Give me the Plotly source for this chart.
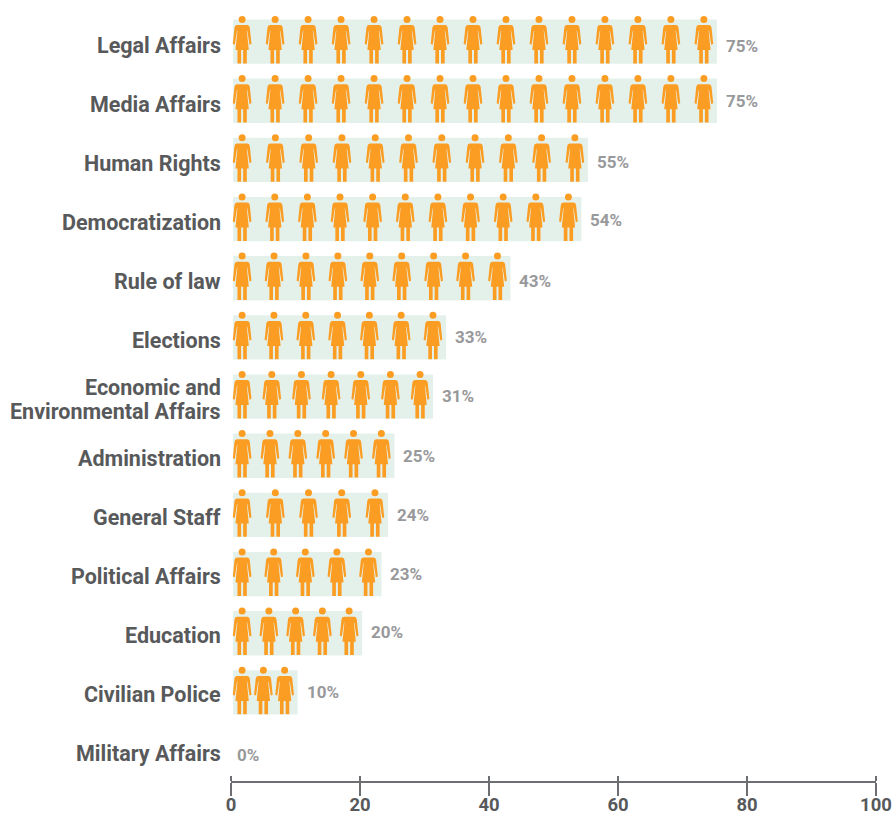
import numpy as np
import plotly.graph_objects as go

categories = ["Legal Affairs", "Media Affairs", "Human Rights", "Democratization", "Rule of law",
              "Elections", "Economic and Environmental Affairs", "Administration", "General Staff",
              "Political Affairs", "Education", "Civilian Police", "Military Affairs"]
label_lines = [["Legal Affairs"], ["Media Affairs"], ["Human Rights"], ["Democratization"], ["Rule of law"],
               ["Elections"], ["Economic and", "Environmental Affairs"], ["Administration"], ["General Staff"],
               ["Political Affairs"], ["Education"], ["Civilian Police"], ["Military Affairs"]]
shares = [75, 75, 55, 54, 43, 33, 31, 25, 24, 23, 20, 10, 0]
figures = [15, 15, 11, 11, 9, 7, 7, 6, 5, 5, 5, 3, 0]
tick_values = [0, 20, 40, 60, 80, 100]

PX_PER_UNIT = 6.45
BAR_START = 0.33
GREY = "#58595B"
AXIS = "#6D6E71"
FONT = dict(family="Roboto, sans-serif", weight=700)


def icon_path():
    """Woman pictogram, in pixels around the icon centre (y up)."""
    def p(x, y):
        return f"{(x - 52) / 3:.2f},{(97.5 - y) / 3:.2f}"
    body = (f"M{p(36, 48)} L{p(68, 48)} Q{p(74, 48)} {p(75, 56)} L{p(80, 105)} L{p(74, 107)} L{p(68, 68)} "
            f"L{p(66, 63)} L{p(72, 123)} L{p(66, 123)} L{p(66, 163)} L{p(55, 163)} L{p(55, 123)} L{p(49, 123)} "
            f"L{p(49, 163)} L{p(38, 163)} L{p(38, 123)} L{p(32, 123)} L{p(38, 63)} L{p(36, 68)} L{p(30, 107)} "
            f"L{p(24, 105)} L{p(29, 56)} Q{p(30, 48)} {p(36, 48)} Z")
    cx, cy, r = 52, 31, 10.5
    head = (f"M{p(cx - r, cy)} Q{p(cx - r, cy - r)} {p(cx, cy - r)} Q{p(cx + r, cy - r)} {p(cx + r, cy)} "
            f"Q{p(cx + r, cy + r)} {p(cx, cy + r)} Q{p(cx - r, cy + r)} {p(cx - r, cy)} Z")
    return body + " " + head


ICON = icon_path()
fig = go.Figure()
fig.add_bar(y=categories, x=shares, base=BAR_START, orientation="h", width=0.75,
            marker=dict(color="#E4F1EB", line_width=0), hoverinfo="skip")
# Invisible trace that keeps the upper tick axis alive
fig.add_scatter(x=[0], y=[categories[0]], xaxis="x2", mode="markers", marker_opacity=0, hoverinfo="skip")

# Spread each row's pictograms evenly across its bar
shapes = []
for cat, share, n in zip(categories, shares, figures):
    if n == 0:
        continue
    first = BAR_START + 9 / PX_PER_UNIT
    last = BAR_START + share - 13 / PX_PER_UNIT
    for xc in np.linspace(first, last, n):
        shapes.append(dict(type="path", path=ICON, xref="x", yref="y",
                           xsizemode="pixel", ysizemode="pixel",
                           xanchor=float(xc), yanchor=cat,
                           fillcolor="#FB9D23", line_width=0, layer="above"))

annotations = []
pct_nudge = [-4, 0, -2, -1, -3, 0, 1, 0, 0, 0, 1, 0, -3]
for i, (cat, lines, share) in enumerate(zip(categories, label_lines, shares)):
    annotations.append(dict(x=share, y=cat, xref="x", yref="y", text=f"{share}%", showarrow=False,
                            xanchor="left", xshift=9 if share else 4, yshift=pct_nudge[i],
                            font=dict(size=17, color="#98999B", **FONT)))
    for j, line in enumerate(lines):
        # Row names sit on their own annotations so two-line names keep a tight leading
        offset = (len(lines) - 1) / 2 - j
        annotations.append(dict(x=0, y=cat, xref="x", yref="y", text=line, showarrow=False,
                                xanchor="right", xshift=-8.5, yshift=-(4 - 0.2 * i) + offset * 24,
                                font=dict(size=21.5, color=GREY, **FONT)))

fig.update_layout(
    width=892, height=814, margin=dict(l=231, r=16, t=12.45, b=33.4, autoexpand=False),
    paper_bgcolor="white", plot_bgcolor="white", showlegend=False,
    shapes=shapes, annotations=annotations,
    xaxis=dict(range=[0, 100], tickvals=tick_values, showgrid=False, zeroline=False, automargin=False,
               showline=True, linecolor=AXIS, linewidth=2,
               ticks="outside", ticklen=13, tickwidth=1.5, tickcolor=AXIS,
               ticklabelstandoff=-7, ticklabeloverflow="allow",
               tickfont=dict(size=18.5, color=GREY, **FONT)),
    xaxis2=dict(range=[0, 100], overlaying="x", side="top", anchor="free", position=0, automargin=False,
                tickvals=tick_values, showgrid=False, zeroline=False, showticklabels=False,
                ticks="outside", ticklen=5, tickwidth=1.5, tickcolor=AXIS),
    yaxis=dict(type="category", categoryorder="array", categoryarray=categories, automargin=False,
               range=[12.497, -0.5], showgrid=False, zeroline=False, showline=False,
               ticks="", showticklabels=False),
)
fig.write_html("out.html")
